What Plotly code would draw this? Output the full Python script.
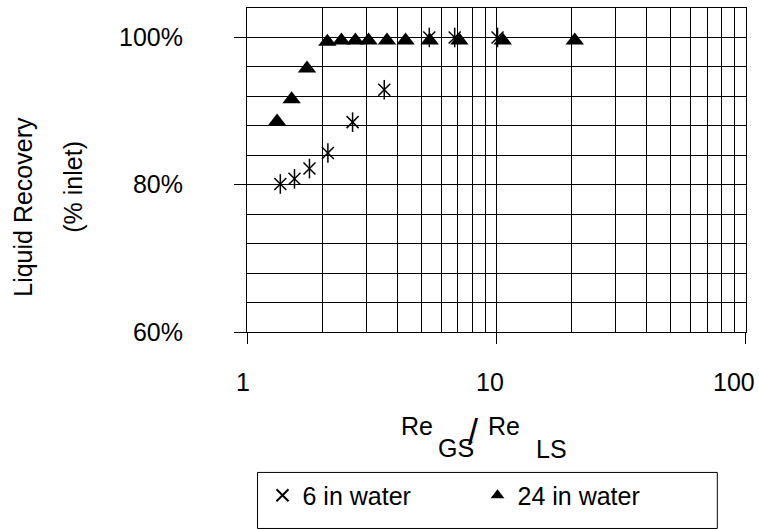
import math
import plotly.graph_objects as go

# Data
ratio_6in = [1.36, 1.55, 1.78, 2.11, 2.65, 3.55, 5.38, 6.80, 10.1]
recovery_6in = [80.1, 80.8, 82.2, 84.3, 88.5, 92.9, 100.0, 100.0, 100.0]

ratio_24in = [1.32, 1.51, 1.74, 2.10, 2.39, 2.72, 3.07, 3.64, 4.32, 5.40, 7.10, 10.6, 20.6]
recovery_24in = [88.6, 91.6, 95.8, 99.4, 99.6, 99.6, 99.6, 99.6, 99.6, 99.6, 99.6, 99.6, 99.6]

y_major_ticks = [60, 80, 100]
y_tick_labels = ["60%", "80%", "100%"]
x_ticks = [1, 10, 100]
x_tick_labels = ["1", "10", "100"]
x_label_shift = [-4, -6, -12]  # label offsets seen in the reference

FONT = "Liberation Sans, Arial, sans-serif"
FS = 25

# plot area in pixels
W, H = 759, 529
L, R, T, B = 246.5, 745.7, 8, 331.7


def px(xp):
    return (xp - L) / (R - L)


def py(yp):
    return (B - yp) / (B - T)


fig = go.Figure()

fig.add_trace(go.Scatter(
    x=ratio_6in, y=recovery_6in, mode="markers", name="6 in water",
    legendgroup="six",
    marker=dict(symbol="x-thin-open", size=12, color="black",
                line=dict(color="black", width=1.5)),
))
fig.add_trace(go.Scatter(
    x=ratio_6in, y=recovery_6in, mode="markers", name="6 in water",
    legendgroup="six", showlegend=False,
    marker=dict(symbol="line-ns-open", size=14, color="black",
                line=dict(color="black", width=1.5)),
))
fig.add_trace(go.Scatter(
    x=ratio_24in, y=recovery_24in, mode="markers", name="24 in water",
    marker=dict(symbol="triangle-up", size=16, color="black"),
))

fig.update_layout(
    width=W, height=H,
    margin=dict(l=L, r=W - R, t=T, b=H - B, pad=0, autoexpand=False),
    paper_bgcolor="white", plot_bgcolor="white",
    font=dict(family=FONT, size=FS, color="black"),
    showlegend=True,
    legend=dict(
        orientation="h", x=px(262), y=py(472), xanchor="left", yanchor="top",
        bgcolor="rgba(0,0,0,0)", borderwidth=0,
        font=dict(family=FONT, size=FS, color="black"),
        entrywidth=170, entrywidthmode="pixels",
        itemsizing="constant",
    ),
    xaxis=dict(
        type="log", range=[0, 2.0003], automargin=False,
        tickvals=x_ticks, showticklabels=False,
        ticks="outside", ticklen=11, tickcolor="black", tickwidth=1,
        showline=True, linecolor="black", linewidth=1, mirror=True,
        showgrid=True, gridcolor="black", gridwidth=1,
        minor=dict(dtick="D1", showgrid=True, gridcolor="black", gridwidth=1, ticks=""),
        zeroline=False,
    ),
    yaxis=dict(
        range=[60, 104], automargin=False,
        tickvals=y_major_ticks, ticktext=y_tick_labels,
        ticks="outside", ticklen=12, tickcolor="black", tickwidth=1,
        ticklabelstandoff=46,
        showline=True, linecolor="black", linewidth=1, mirror=True,
        showgrid=True, gridcolor="black", gridwidth=1,
        minor=dict(tick0=60, dtick=4, showgrid=True, gridcolor="black", gridwidth=1, ticks=""),
        zeroline=False,
        tickfont=dict(family=FONT, size=FS, color="black"),
    ),
)

# x tick labels placed at the tick values
for v, lab, sh in zip(x_ticks, x_tick_labels, x_label_shift):
    fig.add_annotation(text=lab, xref="x", yref="paper", x=math.log10(v), y=py(382),
                       xanchor="center", yanchor="middle", showarrow=False, xshift=sh,
                       font=dict(family=FONT, size=FS, color="black"))

# legend box
fig.add_shape(type="rect", xref="paper", yref="paper",
              x0=px(257), x1=px(717), y0=py(472), y1=py(528),
              line=dict(color="black", width=1), fillcolor="rgba(0,0,0,0)")


# axis titles
def ann(text, xp, yp, angle=0, size=FS):
    fig.add_annotation(text=text, xref="paper", yref="paper", x=px(xp), y=py(yp),
                       xanchor="center", yanchor="middle", showarrow=False,
                       textangle=angle, font=dict(family=FONT, size=size, color="black"))


ann("Re", 417, 426)
ann("GS", 456, 448)
ann("/", 473, 432, size=36)
ann("Re", 504, 426)
ann("LS", 551, 449)

ann("Liquid Recovery", 23, 207, -90)
ann("(% inlet)", 73, 187, -90)

fig.write_html("out.html")
